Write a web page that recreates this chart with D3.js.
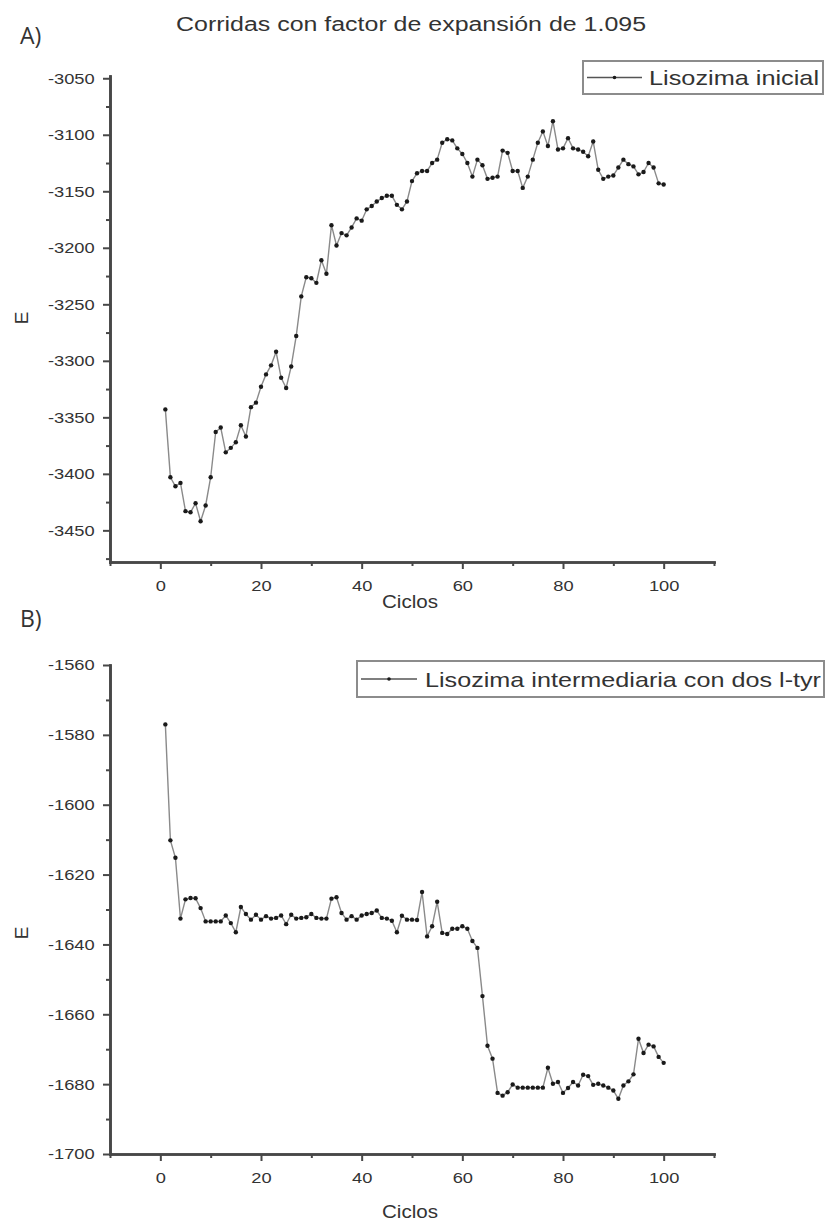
<!DOCTYPE html>
<html>
<head>
<meta charset="utf-8">
<script src="https://cdn.jsdelivr.net/npm/d3@7"></script>
<style>
body { margin: 0; background: #fff; }
text { font-family: "Liberation Sans", Arial, sans-serif; fill: #333; }
</style>
</head>
<body>
<svg id="chart" width="825" height="1228"></svg>
<script>
// cycles (x) and energies
var ciclos = [1,2,3,4,5,6,7,8,9,10,11,12,13,14,15,16,17,18,19,20,
  21,22,23,24,25,26,27,28,29,30,31,32,33,34,35,36,37,38,39,40,
  41,42,43,44,45,46,47,48,49,50,51,52,53,54,55,56,57,58,59,60,
  61,62,63,64,65,66,67,68,69,70,71,72,73,74,75,76,77,78,79,80,
  81,82,83,84,85,86,87,88,89,90,91,92,93,94,95,96,97,98,99,100];

var eInicial = [-3343,-3403,-3411,-3408,-3433,-3434,-3426,-3442,-3428,-3403,
  -3363,-3359,-3381,-3377,-3372,-3357,-3367,-3341,-3337,-3323,
  -3312,-3304,-3292,-3315,-3324,-3305,-3278,-3243,-3226,-3227,
  -3231,-3211,-3223,-3180,-3198,-3187,-3189,-3182,-3174,-3176,
  -3166,-3163,-3159,-3156,-3154,-3154,-3162,-3166,-3159,-3141,
  -3134,-3132,-3132,-3125,-3122,-3107,-3104,-3105,-3112,-3117,
  -3125,-3137,-3122,-3127,-3139,-3138,-3137,-3114,-3116,-3132,
  -3132,-3147,-3137,-3122,-3107,-3097,-3110,-3088,-3113,-3112,
  -3103,-3112,-3113,-3115,-3119,-3106,-3131,-3139,-3137,-3136,
  -3129,-3122,-3126,-3128,-3135,-3133,-3125,-3129,-3143,-3144];

var eIntermedia = [-1577,-1610.2,-1615.2,-1632.6,-1627.1,-1626.7,-1626.8,-1629.6,-1633.4,-1633.4,
  -1633.4,-1633.4,-1631.7,-1633.9,-1636.5,-1629.3,-1631.3,-1632.9,-1631.5,-1632.9,
  -1631.9,-1632.6,-1632.4,-1631.7,-1634.2,-1631.5,-1632.6,-1632.4,-1632.2,-1631.3,
  -1632.4,-1632.6,-1632.6,-1626.9,-1626.5,-1631,-1632.9,-1631.9,-1632.9,-1631.7,
  -1631.3,-1631,-1630.3,-1632.4,-1632.6,-1633.2,-1636.5,-1631.8,-1632.9,-1632.9,
  -1633,-1625,-1637.7,-1634.8,-1627.8,-1636.7,-1637,-1635.5,-1635.5,-1634.8,
  -1635.5,-1639,-1641,-1654.8,-1669,-1672.7,-1682.5,-1683.3,-1682.3,-1680.1,
  -1681,-1681,-1681,-1681,-1681,-1681,-1675.3,-1679.9,-1679.4,-1682.5,
  -1681.1,-1679.4,-1680.4,-1677.3,-1677.7,-1680.2,-1679.9,-1680.4,-1681,-1681.8,
  -1684.2,-1680.4,-1679.2,-1677.2,-1667,-1671.1,-1668.7,-1669.2,-1672.2,-1673.9];

var xTicks = [0,20,40,60,80,100];
var xMinor = [-10,10,30,50,70,90,110];
var yTicksA = [-3050,-3100,-3150,-3200,-3250,-3300,-3350,-3400,-3450];
var yMinorA = [-3075,-3125,-3175,-3225,-3275,-3325,-3375,-3425,-3475];
var yTicksB = [-1560,-1580,-1600,-1620,-1640,-1660,-1680,-1700];
var yMinorB = [-1570,-1590,-1610,-1630,-1650,-1670,-1690];

var svg = d3.select('#chart');
svg.append('rect').attr('width', 825).attr('height', 1228).attr('fill', '#fff');

var axisColor = '#474747';
var lineColor = '#8a8a8a';
var stretchX = 1.18;
// plain hyphen minus, no thousands separator, like the original
var plainNum = function(d) { return String(d); };

function styleAxis(sel) {
  sel.select('.domain').attr('stroke', axisColor).attr('stroke-width', 2.6);
  sel.selectAll('.tick line').attr('stroke', axisColor).attr('stroke-width', 2);
  sel.selectAll('.tick text')
    .attr('fill', '#333')
    .style('font-size', '15.5px')
    .attr('transform', 'scale(' + stretchX + ',1)');
}

function drawPanel(p) {
  var x = d3.scaleLinear().domain([-10, 110]).range([110, 714]);
  var y = d3.scaleLinear().domain(p.yDomain).range([p.bottom, p.top]);
  var g = svg.append('g');

  // minor ticks first, then labelled ones
  g.append('g').attr('transform', 'translate(0,' + p.bottom + ')')
    .call(d3.axisBottom(x).tickValues(xMinor).tickSize(4).tickSizeOuter(0).tickFormat(''))
    .call(styleAxis);
  g.append('g').attr('transform', 'translate(0,' + p.bottom + ')')
    .call(d3.axisBottom(x).tickValues(xTicks).tickSize(7).tickSizeOuter(0).tickPadding(11).tickFormat(plainNum))
    .call(styleAxis);
  g.append('g').attr('transform', 'translate(110,0)')
    .call(d3.axisLeft(y).tickValues(p.yMinor).tickSize(4).tickSizeOuter(0).tickFormat(''))
    .call(styleAxis);
  g.append('g').attr('transform', 'translate(110,0)')
    .call(d3.axisLeft(y).tickValues(p.yTicks).tickSize(7).tickSizeOuter(0).tickPadding(6).tickFormat(plainNum))
    .call(styleAxis);
  g.selectAll('.domain').attr('stroke-linecap', 'square');

  var pts = ciclos.map(function(c, i) { return [c, p.values[i]]; });
  var line = d3.line()
    .x(function(d) { return x(d[0]); })
    .y(function(d) { return y(d[1]); });

  g.append('path').datum(pts)
    .attr('d', line)
    .attr('fill', 'none')
    .attr('stroke', lineColor)
    .attr('stroke-width', 1.4);

  g.selectAll('circle.pt').data(pts).enter()
    .append('circle')
    .attr('class', 'pt')
    .attr('cx', function(d) { return x(d[0]); })
    .attr('cy', function(d) { return y(d[1]); })
    .attr('r', 2.2)
    .attr('fill', '#1a1a1a');

  // axis titles
  g.append('text')
    .attr('x', 410).attr('y', p.bottom + p.xTitleGap)
    .attr('text-anchor', 'middle')
    .style('font-size', '18px')
    .attr('textLength', 56).attr('lengthAdjust', 'spacingAndGlyphs')
    .text('Ciclos');
  g.append('text')
    .attr('transform', 'translate(28,' + p.eY + ') rotate(-90)')
    .attr('text-anchor', 'middle')
    .style('font-size', '19px')
    .text('E');

  // legend
  var lg = p.legend;
  g.append('rect')
    .attr('x', lg.x).attr('y', lg.y).attr('width', lg.w).attr('height', lg.h)
    .attr('fill', '#fff').attr('stroke', '#8c8c8c').attr('stroke-width', 2);
  g.append('line')
    .attr('x1', lg.x + 4).attr('x2', lg.lineEnd)
    .attr('y1', lg.y + lg.h / 2).attr('y2', lg.y + lg.h / 2)
    .attr('stroke', '#555').attr('stroke-width', 1.3);
  g.append('circle')
    .attr('cx', (lg.x + 4 + lg.lineEnd) / 2).attr('cy', lg.y + lg.h / 2)
    .attr('r', 1.8).attr('fill', '#1a1a1a');
  g.append('text')
    .attr('x', lg.textX).attr('y', lg.y + lg.h / 2 + 7.5)
    .style('font-size', '21px')
    .attr('textLength', lg.textW).attr('lengthAdjust', 'spacingAndGlyphs')
    .text(lg.label);
}

drawPanel({
  values: eInicial,
  yDomain: [-3478, -3048], top: 76, bottom: 562,
  yTicks: yTicksA, yMinor: yMinorA,
  xTitleGap: 46, eY: 318,
  legend: { x: 583, y: 61, w: 240, h: 33, lineEnd: 642, textX: 649, textW: 170, label: 'Lisozima inicial' }
});

drawPanel({
  values: eIntermedia,
  yDomain: [-1700, -1560], top: 665, bottom: 1154,
  yTicks: yTicksB, yMinor: yMinorB,
  xTitleGap: 64, eY: 933,
  legend: { x: 357, y: 661, w: 467, h: 36, lineEnd: 417, textX: 425, textW: 396, label: 'Lisozima intermediaria con dos l-tyr' }
});

svg.append('text')
  .attr('x', 176).attr('y', 31)
  .style('font-size', '20px').attr('fill', '#333')
  .attr('textLength', 470).attr('lengthAdjust', 'spacingAndGlyphs')
  .text('Corridas con factor de expansión de 1.095');

svg.append('text')
  .attr('x', 20).attr('y', 44)
  .style('font-family', '"Open Sans", sans-serif')
  .style('font-size', '23px').attr('fill', '#222')
  .text('A)');
svg.append('text')
  .attr('x', 20).attr('y', 627)
  .style('font-family', '"Open Sans", sans-serif')
  .style('font-size', '23px').attr('fill', '#222')
  .text('B)');
</script>
</body>
</html>
